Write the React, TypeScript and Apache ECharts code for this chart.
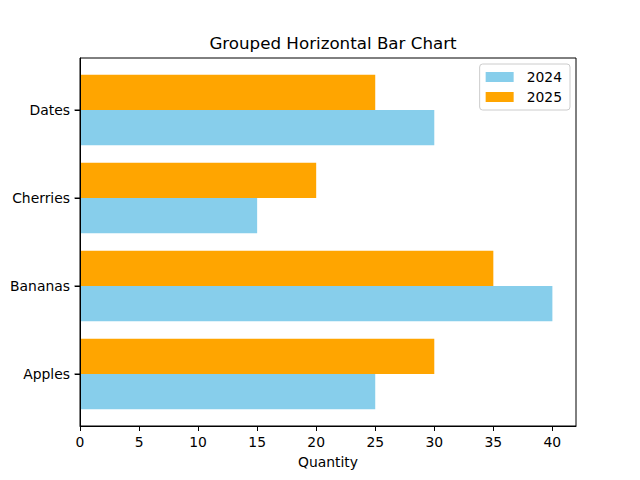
import React, { useEffect, useRef } from "react";
import * as echarts from "echarts";

const categories = ["Apples", "Bananas", "Cherries", "Dates"];
const values2024 = [25, 40, 15, 30];
const values2025 = [30, 35, 20, 25];
const xTicks = [0, 5, 10, 15, 20, 25, 30, 35, 40];
const yTicks = [0, 1, 2, 3];

const FONT = "DejaVu Sans";
const BAR_H = 0.4;

function makeSeries(name: string, values: number[], color: string, offset: number) {
  return {
    name,
    type: "custom",
    z: 2,
    itemStyle: { color },
    encode: { x: 0, y: 1 },
    data: values.map((v, i) => [v, i]),
    renderItem: (params: any, api: any) => {
      const v = api.value(0);
      const c = api.value(1);
      const p0 = api.coord([0, c + offset + BAR_H / 2]);
      const p1 = api.coord([v, c + offset - BAR_H / 2]);
      return {
        type: "rect",
        shape: { x: p0[0], y: p0[1], width: p1[0] - p0[0], height: p1[1] - p0[1] },
        style: { fill: color },
      };
    },
  };
}

export default function App() {
  const ref = useRef<HTMLDivElement>(null);
  useEffect(() => {
    if (!ref.current) return;
    const chart = echarts.init(ref.current, null, { renderer: "svg" });
    chart.setOption({
      animation: false,
      backgroundColor: "#ffffff",
      textStyle: { fontFamily: FONT },
      title: {
        text: "Grouped Horizontal Bar Chart",
        left: 328,
        textAlign: "center",
        top: 29,
        textStyle: { fontFamily: FONT, fontSize: 16.7, fontWeight: "normal", color: "#000" },
      },
      legend: {
        orient: "vertical",
        right: 70,
        top: 64,
        itemWidth: 28,
        itemHeight: 10,
        itemGap: 6,
        padding: [6, 8, 6, 6],
        borderColor: "#cccccc",
        borderWidth: 1,
        borderRadius: 3,
        backgroundColor: "rgba(255,255,255,0.8)",
        icon: "rect",
        data: ["2024", "2025"],
        textStyle: { fontFamily: FONT, fontSize: 13.9, color: "#000", padding: [0, 0, 0, 8] },
      },
      grid: {
        left: 80,
        right: 64,
        top: 58,
        bottom: 54,
        show: true,
        borderColor: "#000",
        borderWidth: 1,
        backgroundColor: "transparent",
      },
      xAxis: {
        type: "value",
        z: 10,
        min: 0,
        max: 42,
        name: "Quantity",
        nameLocation: "middle",
        nameGap: 29,
        nameTextStyle: { fontFamily: FONT, fontSize: 13.9, color: "#000" },
        axisLine: { show: true, onZero: false, lineStyle: { color: "#000", width: 1 } },
        axisTick: { show: true, inside: false, length: 5, customValues: xTicks, lineStyle: { color: "#000" } },
        axisLabel: { customValues: xTicks, margin: 9, fontFamily: FONT, fontSize: 13.9, color: "#000" },
        splitLine: { show: false },
      },
      yAxis: {
        type: "value",
        z: 10,
        min: -0.59,
        max: 3.59,
        axisLine: { show: true, onZero: false, lineStyle: { color: "#000", width: 1 } },
        axisTick: { show: true, inside: false, length: 5, customValues: yTicks, lineStyle: { color: "#000" } },
        axisLabel: {
          customValues: yTicks,
          margin: 10,
          fontFamily: FONT,
          fontSize: 13.9,
          color: "#000",
          formatter: (v: number) => categories[Math.round(v)] ?? "",
        },
        splitLine: { show: false },
      },
      series: [
        makeSeries("2024", values2024, "#87CEEB", -0.2),
        makeSeries("2025", values2025, "#FFA500", 0.2),
      ],
    });
    const pts = yTicks.map((v) => chart.convertToPixel({ gridIndex: 0 }, [0, v]) as number[]);
    chart.setOption({
      graphic: pts.map((p) => ({
        type: "rect",
        silent: true,
        z: 100,
        shape: { x: p[0] - 5.5, y: Math.round(p[1]) - 0.5, width: 5.5, height: 1.2 },
        style: { fill: "#000" },
      })),
    });
    return () => chart.dispose();
  }, []);
  return (
    <div
      ref={ref}
      style={{ position: "fixed", left: 0, top: 0, width: 640, height: 480 }}
    />
  );
}
